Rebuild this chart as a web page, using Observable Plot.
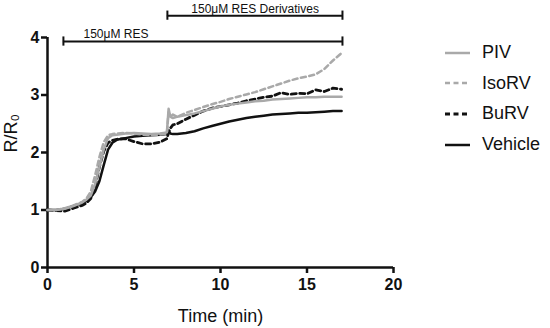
<!DOCTYPE html>
<html>
<head>
<meta charset="utf-8">
<script src="https://cdn.jsdelivr.net/npm/d3@7"></script>
<script src="https://cdn.jsdelivr.net/npm/@observablehq/plot@0.6"></script>
<style>
  html, body { margin: 0; padding: 0; background: #fff; }
  #wrap { position: relative; width: 550px; height: 328px; font-family: Arial, "Liberation Sans", sans-serif; }
  #legend { position: absolute; left: 445px; top: 0; }
  .item { position: absolute; left: 0; display: flex; align-items: center; white-space: nowrap; font-size: 18px; color: #111; }
  .item svg { margin-right: 12px; }
</style>
</head>
<body>
<div id="wrap"><div id="legend"></div></div>
<script>
// time (min)
const time = [0, 0.5, 1, 1.5, 2, 2.25, 2.5, 2.75, 3, 3.25, 3.5, 3.75, 4, 4.5, 5, 5.5, 6, 6.5, 6.9, 7.0, 7.1, 7.25, 7.5, 8, 8.5, 9, 9.5, 10, 10.5, 11, 11.5, 12, 12.5, 13, 13.5, 14, 14.5, 15, 15.5, 16, 16.5, 17];
// R/R0 per series
const piv     = [1.0, 1.0, 1.02, 1.07, 1.13, 1.18, 1.25, 1.45, 1.75, 2.05, 2.25, 2.3, 2.31, 2.33, 2.34, 2.33, 2.32, 2.33, 2.35, 2.76, 2.62, 2.66, 2.62, 2.65, 2.68, 2.72, 2.76, 2.8, 2.83, 2.85, 2.87, 2.89, 2.9, 2.92, 2.93, 2.94, 2.95, 2.96, 2.96, 2.97, 2.97, 2.97];
const isorv   = [1.0, 1.0, 1.03, 1.08, 1.14, 1.2, 1.32, 1.6, 1.92, 2.18, 2.3, 2.32, 2.33, 2.34, 2.33, 2.31, 2.3, 2.31, 2.33, 2.7, 2.62, 2.6, 2.62, 2.69, 2.74, 2.79, 2.84, 2.88, 2.93, 2.97, 3.01, 3.05, 3.1, 3.15, 3.2, 3.25, 3.29, 3.32, 3.36, 3.45, 3.6, 3.73];
const burv    = [1.0, 0.99, 0.98, 1.03, 1.08, 1.12, 1.2, 1.4, 1.75, 2.02, 2.17, 2.21, 2.23, 2.24, 2.19, 2.15, 2.15, 2.18, 2.24, 2.35, 2.42, 2.48, 2.5, 2.58, 2.65, 2.72, 2.77, 2.8, 2.83, 2.86, 2.9, 2.93, 2.96, 2.98, 3.04, 3.01, 3.03, 3.02, 3.09, 3.06, 3.12, 3.1];
const vehicle = [1.0, 1.0, 1.02, 1.07, 1.12, 1.16, 1.22, 1.32, 1.5, 1.78, 2.05, 2.17, 2.22, 2.25, 2.28, 2.29, 2.3, 2.31, 2.32, 2.38, 2.33, 2.32, 2.32, 2.34, 2.37, 2.42, 2.46, 2.5, 2.54, 2.57, 2.6, 2.62, 2.64, 2.66, 2.67, 2.68, 2.69, 2.69, 2.7, 2.71, 2.72, 2.72];

const seriesNames = ["PIV", "IsoRV", "BuRV", "Vehicle"];
const seriesValues = [piv, isorv, burv, vehicle];

// treatment bars: label, start, end, level
const barLabels = ["150μM RES", "150μM RES Derivatives"];
const barStart = [0.92, 6.93];
const barEnd = [17.05, 17.05];
const barLevel = [3.93, 4.38];

const GRAY = "#a9a9a9", BLACK = "#111";
const styles = {
  "PIV":     {stroke: GRAY,  strokeWidth: 2.5, dash: null},
  "IsoRV":   {stroke: GRAY,  strokeWidth: 2.5, dash: "5,3.5"},
  "BuRV":    {stroke: BLACK, strokeWidth: 2.8, dash: "5,3.5"},
  "Vehicle": {stroke: BLACK, strokeWidth: 2.5, dash: null}
};

const rows = name => {
  const v = seriesValues[seriesNames.indexOf(name)];
  return time.map((t, i) => ({t, v: v[i]}));
};
const lineMark = name => Plot.line(rows(name), {
  x: "t", y: "v", stroke: styles[name].stroke, strokeWidth: styles[name].strokeWidth,
  strokeDasharray: styles[name].dash, strokeLinejoin: "round"
});

const bars = barLabels.map((label, i) => ({label, x1: barStart[i], x2: barEnd[i], y: barLevel[i]}));
const caps = bars.flatMap(b => [{x: b.x1, y1: b.y - 0.08, y2: b.y + 0.08}, {x: b.x2, y1: b.y - 0.08, y2: b.y + 0.08}]);

const chart = Plot.plot({
  width: 550, height: 328,
  marginLeft: 47, marginRight: 157, marginTop: 37, marginBottom: 61,
  style: {fontFamily: "Arial, 'Liberation Sans', sans-serif", color: BLACK, background: "transparent"},
  x: {domain: [0, 20]},
  y: {domain: [0, 4]},
  marks: [
    Plot.axisX({ticks: [0, 5, 10, 15, 20], tickSize: 6, tickPadding: 5, strokeWidth: 2.5, fontWeight: "bold", fontSize: 16, label: null, tickFormat: d => d}),
    Plot.axisY({ticks: [0, 1, 2, 3, 4], tickSize: 6, tickPadding: 2, strokeWidth: 2.5, fontWeight: "bold", fontSize: 16, label: null, tickFormat: d => d}),
    Plot.ruleY([0], {strokeWidth: 2.5, stroke: BLACK}),
    Plot.ruleX([0], {y1: 0, y2: 4, strokeWidth: 2.5, stroke: BLACK}),
    Plot.text(["R/R₀"], {frameAnchor: "left", rotate: -90, dx: -36, fontSize: 18}),
    Plot.text(["Time (min)"], {frameAnchor: "bottom", dy: 54, fontSize: 18}),
    lineMark("Vehicle"),
    lineMark("BuRV"),
    lineMark("IsoRV"),
    lineMark("PIV"),
    Plot.ruleY(bars, {x1: "x1", x2: "x2", y: "y", stroke: BLACK, strokeWidth: 2}),
    Plot.ruleX(caps, {x: "x", y1: "y1", y2: "y2", stroke: BLACK, strokeWidth: 2}),
    Plot.text([bars[0]], {x: 2.08, y: 4.05, text: "label", textAnchor: "start", fontSize: 12}),
    Plot.text([bars[1]], {x: 12.0, y: 4.5, text: "label", textAnchor: "middle", fontSize: 12})
  ]
});
document.getElementById("wrap").prepend(chart);

// legend
const legend = document.getElementById("legend");
seriesNames.forEach((name, i) => {
  const s = styles[name];
  const item = document.createElement("div");
  item.className = "item";
  item.style.top = (53 + i * 30.7 - 11) + "px";
  item.innerHTML = `<svg width="25" height="6"><line x1="0" y1="3" x2="25" y2="3" stroke="${s.stroke}" stroke-width="${s.strokeWidth}" ${s.dash ? `stroke-dasharray="${s.dash}"` : ""}/></svg><span>${name}</span>`;
  legend.appendChild(item);
});
</script>
</body>
</html>
